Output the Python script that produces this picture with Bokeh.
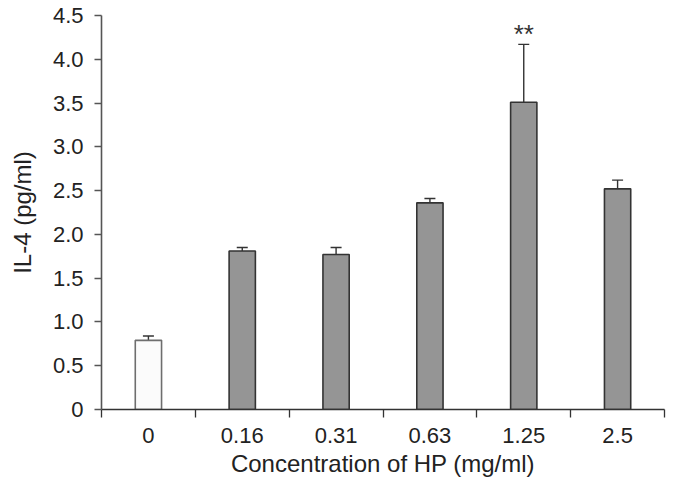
from bokeh.plotting import figure
from bokeh.models import ColumnDataSource, FixedTicker, Range1d, Whisker, TeeHead
from bokeh.embed import file_html
from bokeh.resources import INLINE

categories = ["0", "0.16", "0.31", "0.63", "1.25", "2.5"]
means = [0.79, 1.81, 1.77, 2.36, 3.51, 2.52]
errors = [0.05, 0.04, 0.08, 0.05, 0.66, 0.10]
fills = ["#fbfbfb", "#959595", "#959595", "#959595", "#959595", "#959595"]
lines = ["#6e6e6e", "#333333", "#333333", "#333333", "#333333", "#333333"]
y_ticks = [0, 0.5, 1.0, 1.5, 2.0, 2.5, 3.0, 3.5, 4.0, 4.5]
y_tick_labels = ["0", "0.5", "1.0", "1.5", "2.0", "2.5", "3.0", "3.5", "4.0", "4.5"]
star_index = 4
star_text = "**"

xs = [i + 0.5 for i in range(len(categories))]
tops = [m + e for m, e in zip(means, errors)]
src = ColumnDataSource(dict(x=xs, top=means, upper=tops, fill=fills, line=lines))

FONT = "Liberation Sans"

p = figure(width=675, height=479, output_backend="svg", toolbar_location=None,
           x_range=Range1d(0, len(categories)), y_range=Range1d(0, 4.5),
           min_border_left=101, min_border_right=11, min_border_top=15, min_border_bottom=69)
p.outline_line_color = None
p.grid.grid_line_color = None

p.vbar(x="x", top="top", bottom=0, width=0.28, fill_color="fill", line_color="line",
       line_width=1.6, source=src)
w = Whisker(base="x", lower="top", upper="upper", source=src, line_color="#333333", line_width=1.4,
            upper_head=TeeHead(size=11, line_color="#333333", line_width=1.4), lower_head=None)
p.add_layout(w)

p.text(x=[xs[star_index]], y=[tops[star_index] + 0.12], text=[star_text], text_align="center",
       text_baseline="middle", text_font_size="26px", text_color="#333333",
       text_font={"value": FONT})

# x axis
p.xaxis.ticker = FixedTicker(ticks=xs, minor_ticks=list(range(len(categories) + 1)))
p.xaxis.major_label_overrides = {x: c for x, c in zip(xs, categories)}
p.xaxis.major_tick_line_color = None
p.xaxis.minor_tick_line_color = "#333333"
p.xaxis.minor_tick_in = 0
p.xaxis.minor_tick_out = 8
p.xaxis.minor_tick_line_width = 1.3
p.xaxis.axis_line_color = "#333333"
p.xaxis.axis_line_width = 1.4
p.xaxis.major_label_standoff = 10
p.xaxis.axis_label = "Concentration of HP (mg/ml)"

# y axis
p.yaxis.ticker = FixedTicker(ticks=y_ticks)
p.yaxis.major_label_overrides = {t: l for t, l in zip(y_ticks, y_tick_labels)}
p.yaxis.minor_tick_line_color = None
p.yaxis.major_tick_in = 0
p.yaxis.major_tick_out = 7
p.yaxis.major_tick_line_color = "#555555"
p.yaxis.major_tick_line_width = 1.3
p.yaxis.axis_line_color = "#555555"
p.yaxis.axis_line_width = 1.6
p.yaxis.major_label_standoff = 11
p.yaxis.axis_label = "IL-4 (pg/ml)"

for ax in (p.xaxis, p.yaxis):
    ax.major_label_text_font = FONT
    ax.major_label_text_font_size = "22px"
    ax.major_label_text_color = "#222222"
    ax.axis_label_text_font = FONT
    ax.axis_label_text_font_size = "24px"
    ax.axis_label_text_font_style = "normal"
    ax.axis_label_text_color = "#222222"
p.xaxis.axis_label_standoff = 4
p.yaxis.axis_label_standoff = 14

open("out.html", "w").write(file_html(p, INLINE))
